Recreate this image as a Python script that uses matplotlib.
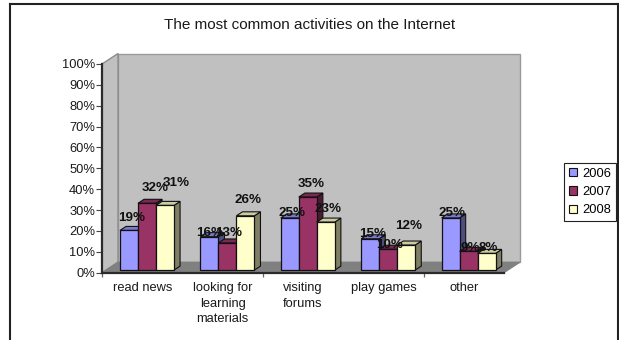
import matplotlib
matplotlib.use("Agg")
import matplotlib.pyplot as plt
from matplotlib.lines import Line2D
from matplotlib.patches import Patch, Polygon

W, H = 619, 340

categories = ["read news", "looking for\nlearning\nmaterials", "visiting\nforums", "play games", "other"]
years = ["2006", "2007", "2008"]
values_2006 = [19, 16, 25, 15, 25]
values_2007 = [32, 13, 35, 10, 9]
values_2008 = [31, 26, 23, 12, 8]
y_ticks = [0, 10, 20, 30, 40, 50, 60, 70, 80, 90, 100]
y_tick_labels = ["0%", "10%", "20%", "30%", "40%", "50%", "60%", "70%", "80%", "90%", "100%"]

# colours per year: front, top, side
FRONT = ["#9999FF", "#993366", "#FFFFCC"]
TOP = ["#7A7ACC", "#7A2952", "#CCCCA3"]
SIDE = ["#4D4D80", "#4D1A33", "#7F7F66"]

# label nudges in pixels from the front top centre of each bar, Excel put them by hand
NUDGE = [
    [(2.7, 12.6), (0.6, 4), (2, 4.5), (2.5, 4.4), (1.7, 4.7)],
    [(8, 15), (1.6, 10), (3, 12.7), (1, 4.7), (1.4, 3.7)],
    [(10.7, 22), (2.6, 16), (2.5, 13.3), (2, 19.5), (1.4, 5)],
]

plt.rcParams["font.family"] = ["Liberation Sans", "DejaVu Sans"]
FS = 9.3
TXT = "#1a1a1a"

fig = plt.figure(figsize=(W / 100, H / 100), dpi=100, facecolor="white")
ax = fig.add_axes([102 / W, 1 - 272.7 / H, 402 / W, 208.7 / H])
ax.set_xlim(0, 5)
ax.set_ylim(0, 100)
ax.patch.set_visible(False)

DX = 16 / 80.4
DY = 10.5 / 2.087


def proj(x, y, z):
    return (x + z * DX, y + z * DY)


def poly(pts, face, edge, lw=0.8, z=1):
    ax.add_patch(Polygon(pts, closed=True, facecolor=face, edgecolor=edge, linewidth=lw,
                         clip_on=False, zorder=z, joinstyle="miter"))


# walls and floor
poly([proj(0, 100, 1), proj(5, 100, 1), proj(5, 0, 1), proj(0, 0, 1)], "#C0C0C0", "#9a9a9a", 1.0)
poly([proj(0, 0, 0), proj(0, 100, 0), proj(0, 100, 1), proj(0, 0, 1)], "#C0C0C0", "#8c8c8c", 1.0)
poly([proj(0, 0, 0), proj(5, 0, 0), proj(5, 0, 1), proj(0, 0, 1)], "#808080", "#808080", 0.8)

# bars
BW = 18 / 80.4
Z0, Z1 = 0.25, 0.63
series = [values_2006, values_2007, values_2008]
for i in range(len(categories)):
    for j, vals in enumerate(series):
        x0 = i + 0.174 + j * BW
        x1 = x0 + BW
        v = vals[i]
        poly([proj(x1, 0, Z0), proj(x1, v, Z0), proj(x1, v, Z1), proj(x1, 0, Z1)], SIDE[j], "#111111", 0.8, 3)
        poly([proj(x0, v, Z0), proj(x1, v, Z0), proj(x1, v, Z1), proj(x0, v, Z1)], TOP[j], "#111111", 0.8, 3)
        poly([proj(x0, 0, Z0), proj(x1, 0, Z0), proj(x1, v, Z0), proj(x0, v, Z0)], FRONT[j], "#111111", 0.9, 3)

for i in range(len(categories)):
    for j, vals in enumerate(series):
        x0 = i + 0.174 + j * BW
        cx, cy = proj(x0 + BW / 2, vals[i], Z0)
        ax.annotate(f"{vals[i]}%", (cx, cy), xytext=NUDGE[j][i], textcoords="offset pixels",
                    ha="center", va="center", fontsize=9.6, fontweight="bold", color="#111111",
                    annotation_clip=False, zorder=6)

# axes
for s in ["top", "right"]:
    ax.spines[s].set_visible(False)
for s in ["left", "bottom"]:
    ax.spines[s].set_color("#2a2a2a")
    ax.spines[s].set_linewidth(1.6)
    ax.spines[s].set_zorder(2)

ax.set_yticks(y_ticks)
ax.set_yticklabels(y_tick_labels, fontsize=FS, color=TXT)
ax.tick_params(axis="y", length=4, width=0.8, color="#444444", pad=1)
ax.set_xticks([0.5, 1.5, 2.5, 3.5, 4.5])
ax.set_xticklabels(categories, fontsize=FS, color=TXT, linespacing=1.35, va="top")
ax.tick_params(axis="x", which="major", length=0, pad=7)
ax.set_xticks([0, 2, 4], minor=True)
ax.tick_params(axis="x", which="minor", length=3, width=0.9, color="#666666")

fig.text(310 / W, 1 - 25 / H, "The most common activities on the Internet",
         ha="center", va="center", fontsize=11, color=TXT)

handles = [Patch(facecolor=FRONT[k], edgecolor="#111111", linewidth=0.8) for k in range(3)]
leg = fig.legend(handles, years, loc="center left", bbox_to_anchor=(564 / W, 1 - 192 / H),
                 fontsize=FS, frameon=True, fancybox=False, edgecolor="#222222", framealpha=1,
                 borderpad=0.38, labelspacing=0.5, handlelength=0.62, handleheight=0.62,
                 handletextpad=0.4, borderaxespad=0)
leg.get_frame().set_linewidth(0.8)

# chart-area border, bottom edge is cut off in the original
for xs, ys in [((10, 10), (340, 4)), ((10, 617.5), (4, 4)), ((617.5, 617.5), (4, 340))]:
    fig.add_artist(Line2D([x / W for x in xs], [1 - y / H for y in ys], color="#222222", linewidth=1.5))

fig.savefig("out.png", dpi=100)
